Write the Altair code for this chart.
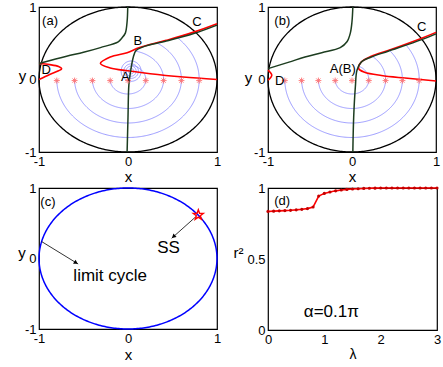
import altair as alt
import numpy as np
import pandas as pd

FONT = "Liberation Sans"

# ---------------- panel (a) ----------------
a_green_up_x = [-0.003, -0.01, -0.03, -0.07, -0.11, -0.31, -0.5, -0.69, -1.0]
a_green_up_y = [1.0, 0.8, 0.64, 0.57, 0.52, 0.44, 0.375, 0.32, 0.22]
a_green_lo_x = [-0.01, 0.0, 0.01, 0.03, 0.06, 0.09, 0.17, 0.43, 0.73, 1.0]
a_green_lo_y = [-1.0, -0.52, -0.07, 0.12, 0.31, 0.40, 0.45, 0.53, 0.63, 0.75]
a_red_x = [1.0, 0.62, 0.25, 0.0, -0.2, -0.31, -0.2, -0.01, 0.13, 0.43, 0.73, 1.0]
a_red_y = [0.0, 0.035, 0.08, 0.12, 0.16, 0.22, 0.31, 0.37, 0.44, 0.54, 0.65, 0.77]
a_redD_x = [-1.0, -0.88, -0.78, -0.745, -0.78, -0.88, -1.0]
a_redD_y = [0.0, 0.07, 0.12, 0.15, 0.18, 0.205, 0.22]
a_arc_r = [0.2, 0.4, 0.6, 0.8]
a_arc_end_deg = [77, 77, 56, 46]
a_loop_rx = [0.03, 0.056, 0.082, 0.112]
a_loop_ry = [0.037, 0.07, 0.1, 0.14]
a_fixed = [0.035, 0.115]
a_lab = ["(a)", "A", "B", "C", "D"]
a_lab_x = [-0.876, -0.03, 0.11, 0.775, -0.92]
a_lab_y = [0.805, 0.03, 0.535, 0.8, 0.125]

# ---------------- panel (b) ----------------
b_green_up_x = [0.01, 0.0, -0.02, -0.06, -0.14, -0.36, -0.56, -0.75, -1.0]
b_green_up_y = [1.0, 0.8, 0.64, 0.52, 0.44, 0.37, 0.31, 0.24, 0.15]
b_green_lo_x = [0.01, 0.02, 0.04, 0.06, 0.11, 0.23, 0.43, 0.83, 1.0]
b_green_lo_y = [-1.0, -0.52, -0.1, 0.13, 0.24, 0.31, 0.39, 0.55, 0.63]
b_red_x = [1.0, 0.63, 0.35, 0.15, 0.08, 0.11, 0.23, 0.43, 0.83, 1.0]
b_red_y = [-0.02, 0.02, 0.055, 0.10, 0.15, 0.24, 0.32, 0.40, 0.57, 0.65]
b_redD_x = [-1.0, -0.955, -1.0]
b_redD_y = [0.13, 0.06, -0.01]
b_arc_r = [0.2, 0.4, 0.6, 0.8]
b_arc_end_deg = [65, 52, 41, 36.5]
b_lab = ["(b)", "A(B)", "C", "D"]
b_lab_x = [-0.83, -0.11, 0.83, -0.86]
b_lab_y = [0.805, 0.14, 0.73, -0.02]

# initial conditions (red asterisks)
ic_x = [-0.8, -0.6, -0.4, -0.2, 0.0, 0.2, 0.4, 0.6, 0.8]
ic_y = [-0.015] * 9

# ---------------- panel (c) ----------------
c_ss = [0.79, 0.617]
c_arrow_x1 = [0.76, -0.97]
c_arrow_y1 = [0.59, 0.24]
c_arrow_x2 = [0.49, -0.56]
c_arrow_y2 = [0.286, -0.078]
c_lab = ["(c)", "SS", "limit cycle"]
c_lab_x = [-0.9, 0.455, -0.2]
c_lab_y = [0.8, 0.155, -0.25]
c_lab_size = [13, 17, 17]

# ---------------- panel (d) ----------------
d_lam = [0.0, 0.1, 0.2, 0.3, 0.4, 0.5, 0.6, 0.7, 0.8, 0.9, 1.0, 1.1, 1.2, 1.3, 1.4,
         1.5, 1.6, 1.7, 1.8, 1.9, 2.0, 2.1, 2.2, 2.3, 2.4, 2.5, 2.6, 2.7, 2.8, 2.9, 3.0]
d_r2 = [0.835, 0.837, 0.839, 0.841, 0.843, 0.846, 0.850, 0.855, 0.866, 0.943, 0.962,
        0.972, 0.980, 0.986, 0.990, 0.993, 0.995, 0.997, 0.998, 0.999, 1.0, 1.0, 1.0,
        1.0, 1.0, 1.0, 1.0, 1.0, 1.0, 1.0, 1.0]
d_lab = ["(d)", "\u03b1=0.1\u03c0"]
d_lab_x = [0.25, 1.125]
d_lab_y = [0.91, 0.124]
d_lab_size = [13, 17]

# ---------------- sizes ----------------
WA, HA = 178, 145
WB, HB = 168, 145
WC, HC = 178, 141
WD, HD = 169, 142

GREEN = "#1d3d20"
BLUE_T = "#7474ff"
ASTER = "M-1,0L1,0M0,-1L0,1M-0.7,-0.7L0.7,0.7M-0.7,0.7L0.7,-0.7"
star_pts = []
for k in range(10):
    rr = 1.0 if k % 2 == 0 else 0.4
    ang = -np.pi / 2 + k * np.pi / 5
    star_pts.append(f"{rr*np.cos(ang):.3f},{rr*np.sin(ang):.3f}")
STAR = "M" + "L".join(star_pts) + "Z"


def curve(xs, ys, cid):
    return pd.DataFrame({"x": xs, "y": ys, "i": range(len(xs)), "id": cid})


def circle_df(cx=0.0, cy=0.0, rx=1.0, ry=1.0, a0=0.0, a1=360.0, cid="c", n=181):
    t = np.radians(np.linspace(a0, a1, n))
    return pd.DataFrame({"x": cx + rx * np.cos(t), "y": cy + ry * np.sin(t),
                         "i": range(n), "id": cid})


def xaxis(values, title, ty, tsize=15):
    return alt.Axis(values=values, title=title, labelExpr="'' + datum.value",
                    labelFont=FONT, labelFontSize=13, labelColor="black",
                    labelPadding=3.5, labelFlush=False, labelOverlap=False,
                    ticks=False, domain=False, grid=False,
                    titleFont=FONT, titleFontSize=tsize, titleFontWeight="normal",
                    titleColor="black", titleY=ty, titleBaseline="middle")


def yaxis(values, title, tx, ty, tsize=15):
    return alt.Axis(values=values, title=title, labelExpr="'' + datum.value",
                    labelFont=FONT, labelFontSize=13, labelColor="black",
                    labelPadding=3, labelFlush=False, labelOverlap=False,
                    ticks=False, domain=False, grid=False,
                    titleFont=FONT, titleFontSize=tsize, titleFontWeight="normal",
                    titleColor="black", titleAngle=0, titleX=tx, titleY=ty,
                    titleAlign="center", titleBaseline="middle")


def phase_panel(w, h, green, red, arcs, loops, labels, xax, yax):
    xs = alt.Scale(domain=[-1, 1], nice=False, zero=False)
    ys = alt.Scale(domain=[-1, 1], nice=False, zero=False)
    X = alt.X("x:Q", scale=xs, axis=xax)
    Y = alt.Y("y:Q", scale=ys, axis=yax)
    layers = []
    blue = pd.concat(arcs + loops, ignore_index=True)
    layers.append(alt.Chart(blue).mark_line(color=BLUE_T, strokeWidth=0.7).encode(
        x=X, y=Y, detail="id:N", order="i:Q"))
    layers.append(alt.Chart(circle_df(n=361)).mark_line(color="black", strokeWidth=1.3).encode(
        x=X, y=Y, order="i:Q"))
    layers.append(alt.Chart(pd.concat(red, ignore_index=True)).mark_line(
        color="#ff0000", strokeWidth=1.6, interpolate="catmull-rom").encode(
        x=X, y=Y, detail="id:N", order="i:Q"))
    layers.append(alt.Chart(pd.concat(green, ignore_index=True)).mark_line(
        color=GREEN, strokeWidth=1.5, interpolate="catmull-rom").encode(
        x=X, y=Y, detail="id:N", order="i:Q"))
    layers.append(alt.Chart(pd.DataFrame({"x": ic_x, "y": ic_y})).mark_point(
        shape=ASTER, size=36, stroke="#ff7070", strokeWidth=1, filled=False, opacity=0.9).encode(
        x=X, y=Y))
    lab_df = pd.DataFrame({"x": labels[1], "y": labels[2], "t": labels[0]})
    layers.append(alt.Chart(lab_df).mark_text(font=FONT, fontSize=13, color="black").encode(
        x=X, y=Y, text="t:N"))
    return alt.layer(*layers).properties(width=w, height=h)


# panel (a)
a_arcs = []
for k, r in enumerate(a_arc_r):
    a_arcs.append(circle_df(rx=r, ry=r, a0=180, a1=360, cid=f"L{k}"))
    a_arcs.append(circle_df(rx=r, ry=r, a0=0, a1=a_arc_end_deg[k], cid=f"R{k}", n=60))
a_loops = [circle_df(cx=a_fixed[0], cy=a_fixed[1], rx=rx, ry=ry, cid=f"P{k}", n=90)
           for k, (rx, ry) in enumerate(zip(a_loop_rx, a_loop_ry))]
pa = phase_panel(
    WA, HA,
    [curve(a_green_up_x, a_green_up_y, "g1"), curve(a_green_lo_x, a_green_lo_y, "g2")],
    [curve(a_red_x, a_red_y, "r1"), curve(a_redD_x, a_redD_y, "r2")],
    a_arcs, a_loops, (a_lab, a_lab_x, a_lab_y),
    xaxis([-1, 0, 1], "x", 24), yaxis([-1, 0, 1], "y", -17, 68))

# panel (b)
b_arcs = []
for k, r in enumerate(b_arc_r):
    b_arcs.append(circle_df(rx=r, ry=r, a0=180, a1=360, cid=f"L{k}"))
    b_arcs.append(circle_df(rx=r, ry=r, a0=0, a1=b_arc_end_deg[k], cid=f"R{k}", n=60))
pb = phase_panel(
    WB, HB,
    [curve(b_green_up_x, b_green_up_y, "g1"), curve(b_green_lo_x, b_green_lo_y, "g2")],
    [curve(b_red_x, b_red_y, "r1"), curve(b_redD_x, b_redD_y, "r2")],
    b_arcs, [], (b_lab, b_lab_x, b_lab_y),
    xaxis([-1, 0, 1], "x", 24), yaxis([-1, 0, 1], "y", -20, 70))

# panel (c)
xs_c = alt.Scale(domain=[-1, 1], nice=False, zero=False)
ys_c = alt.Scale(domain=[-1, 1], nice=False, zero=False)
Xc = alt.X("x:Q", scale=xs_c, axis=xaxis([-1, 0, 1], "x", 25))
Yc = alt.Y("y:Q", scale=ys_c, axis=yaxis([-1, 0, 1], "y", -17.5, 64))
pxu, pyu = WC / 2.0, HC / 2.0
heads = []
for x1, y1, x2, y2 in zip(c_arrow_x1, c_arrow_y1, c_arrow_x2, c_arrow_y2):
    dx, dy = (x2 - x1) * pxu, -(y2 - y1) * pyu
    L = np.hypot(dx, dy)
    ang = (np.degrees(np.arctan2(dx, -dy)) + 360) % 360
    heads.append({"x": x2 - 2.5 * dx / L / pxu, "y": y2 + 2.5 * dy / L / pyu, "ang": ang})
arrows_df = pd.DataFrame({"x": c_arrow_x1, "y": c_arrow_y1, "x2": c_arrow_x2, "y2": c_arrow_y2})
pc = alt.layer(
    alt.Chart(circle_df(n=361)).mark_line(color="#0000ff", strokeWidth=1.5).encode(
        x=Xc, y=Yc, order="i:Q"),
    alt.Chart(arrows_df).mark_rule(color="black", strokeWidth=0.8).encode(
        x=Xc, y=Yc, x2="x2:Q", y2="y2:Q"),
    alt.Chart(pd.DataFrame(heads)).mark_point(shape="triangle-up", filled=True, color="black",
                                              size=22, opacity=1).encode(
        x=Xc, y=Yc, angle=alt.Angle("ang:Q", scale=None)),
    alt.Chart(pd.DataFrame({"x": [c_ss[0]], "y": [c_ss[1]]})).mark_point(
        shape=STAR, size=110, stroke="#ff0000", strokeWidth=1.4, filled=False, opacity=1).encode(
        x=Xc, y=Yc),
    alt.Chart(pd.DataFrame({"x": c_lab_x, "y": c_lab_y, "t": c_lab, "s": c_lab_size})).mark_text(
        font=FONT, color="black").encode(
        x=Xc, y=Yc, text="t:N", size=alt.Size("s:Q", scale=None, legend=None)),
).properties(width=WC, height=HC)

# panel (d)
Xd = alt.X("x:Q", scale=alt.Scale(domain=[0, 3], nice=False, zero=False),
           axis=xaxis([0, 1, 2, 3], "\u03bb", 24, 14))
Yd = alt.Y("y:Q", scale=alt.Scale(domain=[0, 1], nice=False, zero=False),
           axis=yaxis([0, 0.5, 1], "r\u00b2", -30, 64))
d_df = pd.DataFrame({"x": d_lam, "y": d_r2})
pd_ = alt.layer(
    alt.Chart(d_df).mark_line(color="#ff0000", strokeWidth=1.6).encode(x=Xd, y=Yd),
    alt.Chart(d_df).mark_point(shape="circle", filled=True, color="#c40000", size=10,
                               opacity=1).encode(x=Xd, y=Yd),
    alt.Chart(pd.DataFrame({"x": d_lab_x, "y": d_lab_y, "t": d_lab, "s": d_lab_size})).mark_text(
        font=FONT, color="black").encode(
        x=Xd, y=Yd, text="t:N", size=alt.Size("s:Q", scale=None, legend=None)),
).properties(width=WD, height=HD)

chart = alt.concat(pa, pb, pc, pd_, columns=2,
                   spacing=alt.RowColnumber(row=36, column=51),
                   bounds="flush").properties(
    autosize=alt.AutoSizeParams(type="none"),
    padding={"left": 39, "top": 7, "right": 404, "bottom": 360},
    background="white",
).configure_view(stroke="black", strokeWidth=1.2)

chart.save("out.html", embed_options={"renderer": "svg", "actions": False})
